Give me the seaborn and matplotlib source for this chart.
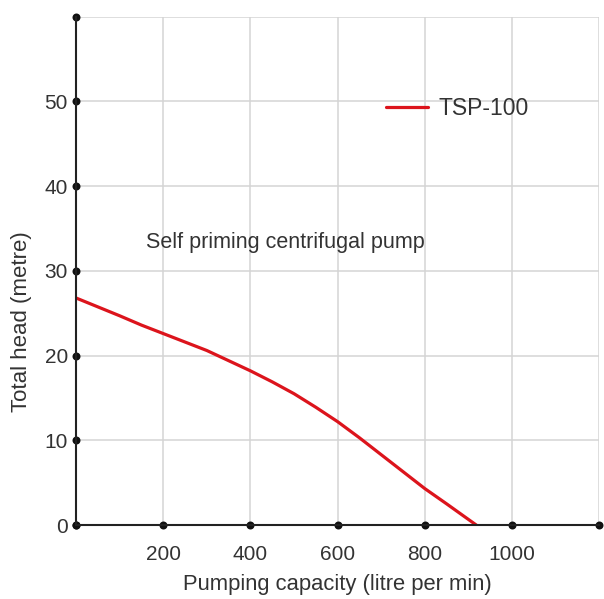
import matplotlib
matplotlib.use("Agg")
import matplotlib.pyplot as plt
import seaborn as sns
import pandas as pd

# Data
capacity = [0, 100, 150, 200, 250, 300, 350, 400, 450, 500, 550, 600, 650, 700, 750, 800, 850, 918]
head = [26.8, 24.7, 23.6, 22.6, 21.6, 20.6, 19.4, 18.2, 16.9, 15.5, 13.9, 12.2, 10.3, 8.3, 6.3, 4.3, 2.5, 0.0]
series_name = "TSP-100"
x_ticks = [0, 200, 400, 600, 800, 1000, 1200]
x_tick_labels = ["", "200", "400", "600", "800", "1000", ""]
y_ticks = [0, 10, 20, 30, 40, 50, 60]
y_tick_labels = ["0", "10", "20", "30", "40", "50", ""]
annotation = "Self priming centrifugal pump"
x_label = "Pumping capacity (litre per min)"
y_label = "Total head (metre)"

sns.set_theme(style="whitegrid")
plt.rcParams["font.family"] = ["Liberation Sans", "DejaVu Sans"]

df = pd.DataFrame({"capacity": capacity, "head": head, "series": series_name})

fig = plt.figure(figsize=(6.04, 5.99), dpi=100)
ax = fig.add_axes([0.126, 0.1235, 0.866, 0.8485])

sns.lineplot(data=df, x="capacity", y="head", hue="series",
             palette=["#dc141c"], linewidth=2.3, ax=ax, legend=True)

ax.set_xlim(0, 1200)
ax.set_ylim(0, 60)
ax.set_xticks(x_ticks)
ax.set_xticklabels(x_tick_labels)
ax.set_yticks(y_ticks)
ax.set_yticklabels(y_tick_labels)

ax.grid(True, color="#d4d4d4", linewidth=1.1)
for side in ["top", "right"]:
    ax.spines[side].set_visible(False)
for side in ["left", "bottom"]:
    ax.spines[side].set_visible(True)
    ax.spines[side].set_color("#222222")
    ax.spines[side].set_linewidth(1.5)

ax.tick_params(axis="both", labelsize=15, labelcolor="#333333",
               length=4, color="#111111", left=True, bottom=True)
ax.tick_params(axis="x", pad=10.5)
ax.tick_params(axis="y", pad=2)
for t in ax.xaxis.get_major_ticks() + ax.yaxis.get_major_ticks():
    t.tick1line.set_marker("o")
    t.tick1line.set_markersize(4.5)
    t.tick1line.set_markerfacecolor("#111111")
    t.tick1line.set_markeredgecolor("#111111")
    t.tick1line.set_clip_on(False)

ax.set_xlabel(x_label, fontsize=15.8, color="#333333", labelpad=7)
ax.set_ylabel(y_label, fontsize=16, color="#333333")
ax.yaxis.set_label_coords(-0.084, 0.40)

ax.text(160, 33.4, annotation, fontsize=15.5, color="#333333",
        ha="left", va="center")

leg = ax.legend(loc="center left", bbox_to_anchor=(0.593, 0.819),
                frameon=False, fontsize=16.5, handlelength=1.83,
                handletextpad=0.44, borderpad=0, borderaxespad=0)
for txt in leg.get_texts():
    txt.set_color("#333333")

fig.savefig("out.png", dpi=100)
